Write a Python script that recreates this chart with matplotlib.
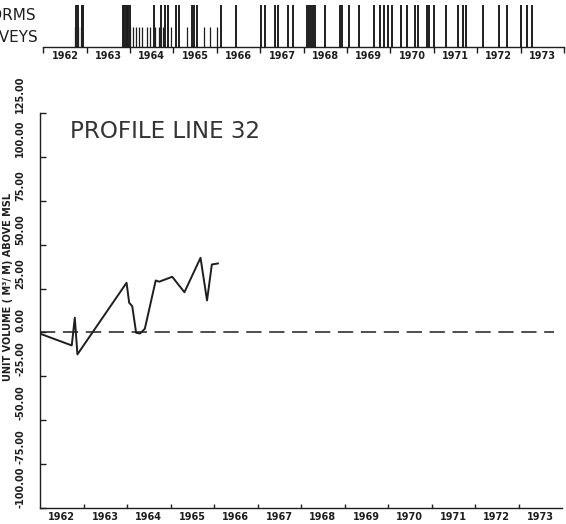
import matplotlib
matplotlib.use('Agg')
import matplotlib.pyplot as plt
import numpy as np

# survey record (year, unit volume m3/m above MSL)
survey_year = [1962.00, 1962.73, 1962.80, 1962.86, 1963.99, 1964.05, 1964.12, 1964.21,
               1964.30, 1964.41, 1964.66, 1964.74, 1965.04, 1965.32, 1965.69, 1965.84,
               1965.95, 1966.09]
unit_volume = [-0.7, -7.4, 8.4, -12.5, 28.3, 16.9, 15.0, -0.2,
               -0.6, 2.1, 29.6, 28.9, 31.7, 22.9, 42.5, 18.2,
               38.7, 39.3]

# event strip: storms (tall marks) and surveys (short marks)
storm_dates = [1962.753, 1962.793, 1962.885, 1962.922, 1963.829, 1963.866, 1963.906,
               1963.935, 1963.959, 1963.998, 1964.551, 1964.705, 1964.804, 1964.866,
               1965.058, 1965.127, 1965.433, 1965.479, 1965.535, 1966.094, 1966.440,
               1967.016, 1967.108, 1967.339, 1967.415, 1967.631, 1967.747, 1968.076,
               1968.122, 1968.168, 1968.214, 1968.260, 1968.491, 1968.836, 1968.889,
               1969.051, 1969.281, 1969.627, 1969.758, 1969.850, 1969.949, 1970.028,
               1970.242, 1970.387, 1970.565, 1970.641, 1970.834, 1970.894, 1971.009,
               1971.272, 1971.562, 1971.677, 1971.733, 1972.138, 1972.500, 1972.677,
               1973.007, 1973.138, 1973.253]
survey_dates = [1962.73, 1962.80, 1962.87, 1963.99, 1964.06, 1964.13, 1964.20, 1964.28,
                1964.40, 1964.47, 1964.57, 1964.67, 1964.76, 1964.94, 1965.32, 1965.70,
                1965.84, 1966.00]

years = list(range(1962, 1974))
year_labels = [str(y) for y in years]
y_ticks = [-100, -75, -50, -25, 0, 25, 50, 75, 100, 125]
y_labels = ['%.2f' % v for v in y_ticks]

INK = '#1e1e1e'
NARROW = ['Liberation Sans Narrow', 'DejaVu Sans']
plt.rcParams['font.family'] = NARROW

fig = plt.figure(figsize=(5.66, 5.24), dpi=100)

# ---- top strip of storms / surveys
ax_top = fig.add_axes([43.3 / 566, 1 - 46.5 / 524, 520.7 / 566, 42.5 / 524])
ax_top.vlines(storm_dates, 0, 0.98, color=INK, lw=1.4)
ax_top.vlines(survey_dates, 0, 0.46, color=INK, lw=0.9)
ax_top.set_xlim(1962, 1974)
ax_top.set_ylim(0, 1)
for s in ['top', 'right', 'left']:
    ax_top.spines[s].set_visible(False)
ax_top.spines['bottom'].set_color(INK)
ax_top.spines['bottom'].set_linewidth(1.0)
ax_top.set_yticks([])
ax_top.set_xticks(years + [1974])
ax_top.set_xticklabels([])
ax_top.set_xticks([y + 0.5 for y in years], minor=True)
ax_top.set_xticklabels(year_labels, minor=True, fontsize=7, fontweight='bold', color=INK)
ax_top.tick_params(axis='x', which='major', direction='out', length=4, width=1, color=INK)
ax_top.tick_params(axis='x', which='minor', length=0, pad=3)

fig.text(36 / 566, 1 - 15 / 524, 'STORMS', ha='right', va='center', fontsize=11, color=INK)
fig.text(38 / 566, 1 - 37 / 524, 'SURVEYS', ha='right', va='center', fontsize=11, color=INK)

# ---- main profile plot
ax = fig.add_axes([40 / 566, 1 - 508 / 524, 522 / 566, 395 / 524])
ax.plot(survey_year, unit_volume, color=INK, lw=1.4)
ax.axhline(0, xmin=0, xmax=0.985, color=INK, lw=1.1, dashes=(10, 5))
ax.set_xlim(1962, 1974)
ax.set_ylim(-100, 125)
for s in ['top', 'right']:
    ax.spines[s].set_visible(False)
for s in ['left', 'bottom']:
    ax.spines[s].set_color(INK)
    ax.spines[s].set_linewidth(1.0)

ax.set_xticks(years[1:])
ax.set_xticklabels([])
ax.set_xticks([y + 0.5 for y in years], minor=True)
ax.set_xticklabels(year_labels, minor=True, fontsize=7, fontweight='bold', color=INK)
ax.tick_params(axis='x', which='major', direction='in', length=3, width=1, color=INK)
ax.tick_params(axis='x', which='minor', length=0, pad=3)

ax.set_yticks(y_ticks)
ax.set_yticklabels([])
ax.tick_params(axis='y', direction='in', length=4, width=1, color=INK)
ytr = ax.get_yaxis_transform()
for v, lab in zip(y_ticks, y_labels):
    ax.text(-0.038, v, lab, transform=ytr, rotation=90, ha='center', va='bottom',
            fontsize=7, fontweight='bold', color=INK, clip_on=False)

fig.text(8 / 566, 1 - 287 / 524, 'UNIT VOLUME ( M\u00b3/ M) ABOVE MSL', rotation=90,
         ha='center', va='center', fontsize=7, fontweight='bold', color=INK)

fig.text(70 / 566, 1 - 131 / 524, 'PROFILE LINE 32', ha='left', va='center',
         fontsize=16.6, color='#333333', family='DejaVu Sans')

fig.savefig('out.png', dpi=100, facecolor='white')
